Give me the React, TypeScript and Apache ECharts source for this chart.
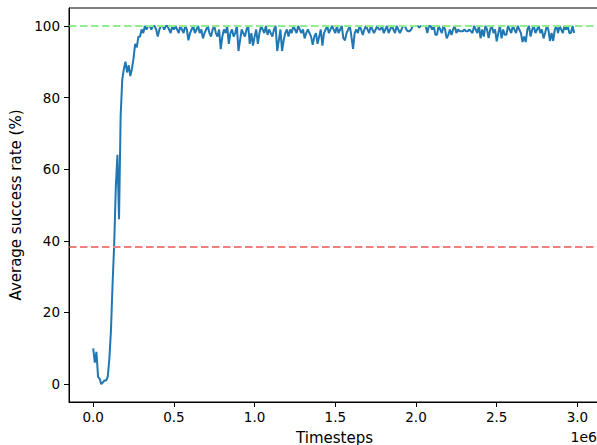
import React, { useEffect, useRef } from "react";
import * as echarts from "echarts";

const stepInterval = 10000;
const successRate: number[] = [
  10, 6, 9, 2, 1.5, 0, 0.5, 1, 1, 2,
  7, 15, 28, 39, 55, 64, 46, 75, 85, 88,
  90, 87, 89, 86, 88, 91, 95, 94, 97, 97,
  99, 98, 100, 99, 100,
  100, 99, 100, 100, 99, 97, 99, 100, 100, 99,
  100, 100, 99, 98, 100, 99, 100, 99, 98, 100,
  99, 98, 100, 99, 96, 98, 99, 100, 98, 99,
  100, 98, 99, 96.5, 98, 99, 100, 98, 97, 99,
  100, 98, 97, 99, 93.5, 97, 99, 98, 100, 95,
  98, 99, 97, 98, 100, 93, 96, 99, 98, 97,
  99, 100, 95, 98, 94.5, 97, 99, 95, 98, 100,
  99, 98, 100, 97.5, 99, 98, 97, 99, 100, 93,
  96, 99, 93, 96, 98, 99, 97, 99, 98, 100,
  99, 98, 100, 99, 98, 99, 96.5, 98, 99, 98,
  97, 94.7, 97, 98, 95, 97, 99, 94.5, 98, 99,
  100, 98, 99, 100, 99, 98, 100, 98, 99, 100,
  96.5, 96, 98, 99, 100, 97, 93.6, 98, 99, 98,
  100, 99, 97.5, 99, 100, 99, 98, 100, 99, 98,
  99, 100, 99, 99, 100, 98, 99, 100, 98, 99,
  100, 99, 98, 100, 99, 98, 99, 100, 100, 99,
  98.5, 98.5, 99, 100, 100, 100, 100, 99.5, 100, 100,
  100, 100, 98, 100, 100, 99, 100, 97.5, 97.5, 100,
  99, 98, 100, 99, 96.5, 97.5, 99, 97.5, 99, 100,
  98, 99, 98.5, 98.5, 98.5, 99, 98.5, 98.5, 99, 98.5,
  98, 100, 99, 98, 100, 96.5, 99, 97, 100, 99,
  96.6, 99, 100, 98, 99, 95.7, 98, 100, 96.5, 99,
  97.5, 97.5, 100, 99, 98, 100, 99, 98, 100, 99,
  98, 95.5, 97, 95.5, 99, 100, 97, 99, 100, 98,
  99, 100, 98, 99, 96.5, 98, 100, 99, 95.8, 98,
  95.8, 99, 100, 98, 100, 99, 98, 100, 99, 100,
  98, 98, 100, 98,
];

const xTicks = [0, 500000, 1000000, 1500000, 2000000, 2500000, 3000000];
const yTicks = [0, 20, 40, 60, 80, 100];
const targetLine = 100;
const baselineLine = 38.3;

const FONT = "DejaVu Sans";

export default function App() {
  const ref = useRef<HTMLDivElement>(null);
  useEffect(() => {
    if (!ref.current) return;
    const chart = echarts.init(ref.current, undefined, { renderer: "svg" });
    const points = successRate.map((v, i) => [i * stepInterval, v]);
    chart.setOption({
      animation: false,
      backgroundColor: "#ffffff",
      grid: {
        left: 69,
        top: 8,
        width: 531,
        height: 394,
        containLabel: false,
        outerBoundsMode: "none",
      },
      xAxis: {
        type: "value",
        min: -150000,
        max: 3140000,
        name: "Timesteps",
        nameLocation: "middle",
        nameGap: 28,
        nameTextStyle: { fontFamily: FONT, fontSize: 15, color: "#000" },
        axisLine: { show: true, onZero: false, lineStyle: { color: "#000", width: 1 } },
        axisTick: { show: true, length: 5, customValues: xTicks, lineStyle: { color: "#000", width: 1 } },
        axisLabel: {
          customValues: xTicks,
          margin: 8,
          fontFamily: FONT,
          fontSize: 13.5,
          color: "#000",
          formatter: (v: number) => (v / 1e6).toFixed(1),
        },
        splitLine: { show: false },
      },
      yAxis: {
        type: "value",
        min: -5,
        max: 105,
        name: "Average success rate (%)",
        nameLocation: "middle",
        nameGap: 45,
        nameRotate: 90,
        nameTextStyle: { fontFamily: FONT, fontSize: 15, color: "#000" },
        axisLine: { show: true, onZero: false, lineStyle: { color: "#000", width: 1 } },
        axisTick: { show: true, length: 5, customValues: yTicks, lineStyle: { color: "#000", width: 1 } },
        axisLabel: {
          customValues: yTicks,
          margin: 9,
          fontFamily: FONT,
          fontSize: 13.5,
          color: "#000",
        },
        splitLine: { show: false },
      },
      graphic: [
        {
          type: "rect",
          shape: { x: 69, y: 8, width: 531, height: 394 },
          style: { fill: "none", stroke: "#000", lineWidth: 1 },
          silent: true,
          z: 10,
        },
        {
          type: "text",
          x: 597,
          y: 430,
          style: {
            text: "1e6",
            font: `14px "${FONT}"`,
            fill: "#000",
            align: "right",
            verticalAlign: "top",
          },
        },
      ],
      series: [
        {
          type: "line",
          data: [],
          silent: true,
          z: 1,
          markLine: {
            silent: true,
            symbol: ["none", "none"],
            label: { show: false },
            data: [
              { yAxis: targetLine, lineStyle: { color: "#90ee90", type: [7.5, 3.5], width: 2 } },
              { yAxis: baselineLine, lineStyle: { color: "#f08080", type: [7.5, 3.5], width: 2 } },
            ],
          },
        },
        {
          type: "line",
          data: points,
          showSymbol: false,
          symbol: "none",
          z: 3,
          lineStyle: { color: "#1f77b4", width: 2 },
        },
      ],
    });
    return () => chart.dispose();
  }, []);
  return (
    <div
      ref={ref}
      style={{ position: "fixed", left: 0, top: 0, width: 597, height: 445, background: "#fff" }}
    />
  );
}
